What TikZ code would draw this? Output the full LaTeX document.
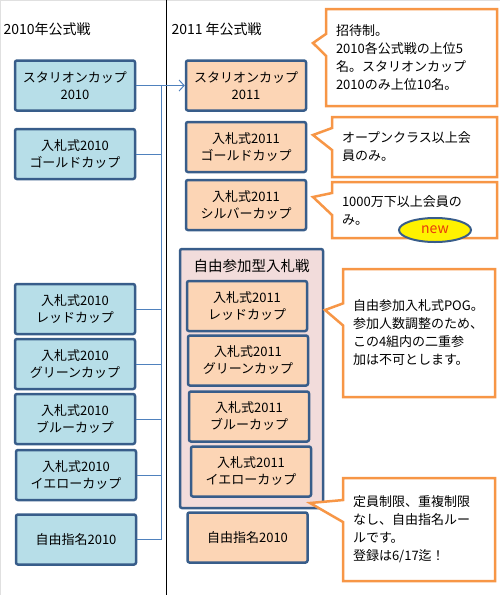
\documentclass[tikz,border=0pt]{standalone}
\usepackage{fontspec}
\setmainfont{Noto Sans CJK JP}
\usetikzlibrary{arrows.meta,shapes.geometric,shapes.callouts}
\definecolor{yr10}{HTML}{B7DEE8}
\definecolor{yr11}{HTML}{FCD5B5}
\definecolor{grpfill}{HTML}{F2DCDB}
\definecolor{edge}{HTML}{385D8A}
\definecolor{memo}{HTML}{F79646}
\definecolor{wire}{HTML}{4F81BD}
\definecolor{newtxt}{HTML}{E8380D}
\tikzset{
  cup/.style={draw=edge, line width=2.5pt, rounded corners=2pt, minimum width=120pt,
    minimum height=50pt, inner sep=0pt, font=\fontsize{13}{17}\selectfont, align=center},
  cup10/.style={cup, fill=yr10},
  cup11/.style={cup, fill=yr11},
  note/.style={rectangle callout, draw=memo, line width=2.5pt, fill=white, inner xsep=10pt,
    callout pointer width=22pt, font=\fontsize{13}{18}\selectfont, align=left},
  link/.style={draw=wire, line width=1pt},
  head/.style={font=\fontsize{14}{16}\selectfont, anchor=west},
}

\begin{document}
\begin{tikzpicture}[x=1pt, y=-1pt]
\useasboundingbox (0,0) rectangle (500,595);
\draw[black!12, line width=1pt] (0,595) -- (0,0.5) -- (500,0.5);

% divider and column headings
\draw[black, line width=1pt] (166,0) -- (166,595);
\node[head] (h10) at (0,29) {2010年公式戦};
\node[head] (h11) at (168,29) {2011 年公式戦};

% 2010 column
\node[cup10] (s10)  at (75,85.5)  {スタリオンカップ\\2010};
\node[cup10] (g10)  at (75,154)   {入札式2010\\ゴールドカップ};
\node[cup10] (r10)  at (75,309)   {入札式2010\\レッドカップ};
\node[cup10] (gr10) at (75,364)   {入札式2010\\グリーンカップ};
\node[cup10] (b10)  at (75,419)   {入札式2010\\ブルーカップ};
\node[cup10] (y10)  at (76,475)   {入札式2010\\イエローカップ};
\node[cup10] (f10)  at (76,539.5) {自由指名2010};

% 2011 column
\node[cup11] (s11) at (246,85.5) {スタリオンカップ\\2011};
\node[cup11] (g11) at (246,147)  {入札式2011\\ゴールドカップ};
\node[cup11] (v11) at (246,205)  {入札式2011\\シルバーカップ};

% free-entry group
\node[draw=edge, fill=grpfill, line width=2.5pt, rounded corners=2pt,
  minimum width=143pt, minimum height=259pt] (grp) at (251.5,378.5) {};
\node[font=\fontsize{14.5}{16}\selectfont] (grpTitle) at (251.5,266) {自由参加型入札戦};
\node[cup11] (r11)  at (247,306)   {入札式2011\\レッドカップ};
\node[cup11] (gr11) at (248,360.5) {入札式2011\\グリーンカップ};
\node[cup11] (b11)  at (249,416.5) {入札式2011\\ブルーカップ};
\node[cup11] (y11)  at (251,471.5) {入札式2011\\イエローカップ};
\node[cup11] (f11)  at (247.5,537.5) {自由指名2010};

% connectors 2010 -> 2011
\coordinate (trunk) at (161,0);
\foreach \n in {s10,g10,r10,gr10,b10,y10,f10}
  \draw[link] (\n.east) -- (\n.east -| trunk);
\draw[link] (s10.east -| trunk) -- (f10.east -| trunk);
\draw[link, -{Straight Barb[length=5pt, width=11pt]}] (s10.east -| trunk) -- (s11.west);

% notes
\node[note, text width=151pt, minimum height=97pt, callout absolute pointer={(313,43)}]
  (c1) at (411.5,57.5) {招待制。\\2010各公式戦の上位5\\名。スタリオンカップ\\2010のみ上位10名。};
\node[note, text width=145pt, minimum height=60pt, callout absolute pointer={(313,135)}]
  (c2) at (414.5,147) {オープンクラス以上会\\員のみ。};
\node[note, text width=145pt, minimum height=56pt, callout absolute pointer={(313,197)}]
  (c3) at (414.5,210) {1000万下以上会員の\\み。};
\node[note, text width=132pt, minimum height=128pt, callout absolute pointer={(325,310)}]
  (c4) at (419,333) {自由参加入札式POG。\\参加人数調整のため、\\この4組内の二重参\\加は不可とします。};
\node[note, text width=132pt, minimum height=103pt, callout absolute pointer={(310,503)}]
  (c5) at (419,529.5) {定員制限、重複制限\\なし、自由指名ルー\\ルです。\\登録は6/17迄！};

% new badge
\node[ellipse, draw=edge, line width=2pt, fill=yellow, minimum width=72pt, minimum height=24pt,
  inner sep=0pt, text=newtxt, font=\fontsize{14}{15}\selectfont] (badge) at (435,230) {new};

\end{tikzpicture}
\end{document}
